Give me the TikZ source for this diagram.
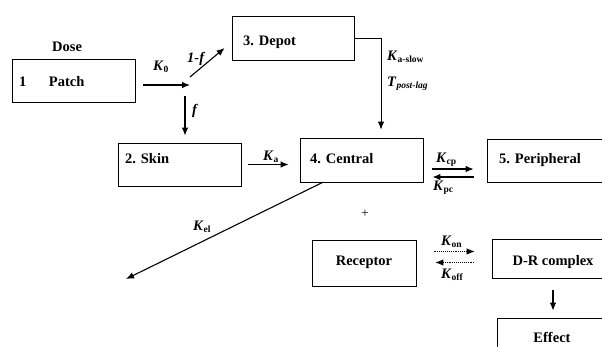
\documentclass[tikz,border=0pt]{standalone}
\usepackage{fontspec}
\setmainfont{Liberation Serif}
\usetikzlibrary{arrows.meta,positioning}
\tikzstyle{comp}=[draw, line width=0.8pt, inner sep=0pt, minimum height=43pt]
\tikzstyle{txt}=[inner sep=0pt, anchor=base west]
\tikzstyle{flow}=[->, >={Latex[length=8pt,width=6.5pt]}, line width=1.1pt]
\tikzstyle{bind}=[flow, densely dotted, line width=0.9pt]
\newcommand{\subt}[1]{\raisebox{-0.35ex}{\fontsize{9.5}{10}\selectfont #1}}
\newcommand{\kk}[1]{\textit{K}\subt{#1}}
\begin{document}
\begin{tikzpicture}[x=1pt, y=-1pt, font=\fontsize{14.5}{17}\selectfont\bfseries]
\clip (0,0) rectangle (602,346);
% compartments
\node[comp, minimum width=123pt] (patch) at (73.5,80.5) {};
\node[comp, minimum width=122pt, minimum height=44pt] (depot) at (293,38) {};
\node[comp, minimum width=123pt] (skin) at (179.5,164.5) {};
\node[comp, minimum width=123pt, minimum height=44pt] (central) at (361.5,160) {};
\node[comp, minimum width=125pt] (periph) at (549.5,160.5) {};
\node[comp, minimum width=104pt, minimum height=46pt] (recep) at (364,263) {};
\node[comp, minimum width=122pt, minimum height=39pt] (drc) at (553,258.5) {};
\node[comp, minimum width=118pt, minimum height=38pt] (effect) at (556,337) {};

% texts in the boxes
\node[txt] (dose) at (52,51.5) {Dose};
\node[txt] (patchtxt) at (19,86) {1\hspace{22.5pt}Patch};
\node[txt] (depottxt) at (243,45) {3. Depot};
\node[txt] (skintxt) at (125,163) {2. Skin};
\node[txt] (centtxt) at (310,163) {4. Central};
\node[txt] (periphtxt) at (499,163) {5. Peripheral};
\node[txt, anchor=base] (receptxt) at (364,265) {Receptor};
\node[txt, anchor=base] (drctxt) at (553,265) {D-R complex};
\node[txt, anchor=base] (effecttxt) at (552,342) {Effect};

% rate labels
\node[txt] (kzero) at (153,70) {\kk{0}};
\node[txt] (oneminusf) at (187,62) {\textit{1-f}};
\node[txt] (frac) at (192,114) {\textit{f}};
\node[txt] (ka) at (263,160) {\kk{a}};
\node[txt] (kaslow) at (387,60) {\kk{a-slow}};
\node[txt] (tlag) at (387,86) {\textit{T}\subt{\textit{post-lag}}};
\node[txt] (kcp) at (436,162) {\kk{cp}};
\node[txt] (kpc) at (433,190) {\kk{pc}};
\node[txt] (kel) at (193,230) {\kk{el}};
\node[font=\fontsize{13}{14}\selectfont\mdseries] (plus) at (365,214) {+};
\node[txt] (kon) at (441,245) {\kk{on}};
\node[txt] (koff) at (441,278) {\kk{off}};

% connectors
\coordinate (fork) at (190,85);
\coordinate (sink) at (126,279);
\draw[flow] ([xshift=8pt]patch.east |- fork) -- (fork);
\draw[flow] ([yshift=8pt]fork) -- ([shift={(-7pt,-10pt)}]depot.west);
\draw[flow] ([shift={(-5pt,-11pt)}]fork) -- ([shift={(5.5pt,7pt)}]skin.north);
\draw[flow, line width=0.9pt] (depot.east) -| ([shift={(19.5pt,8pt)}]central.north);
\draw[flow] ([xshift=7pt]skin.east) -- ([xshift=-11pt]skin.east -| central.west);
\draw[flow] ([shift={(9pt,-9pt)}]central.east) -- ([shift={(-13pt,-9pt)}]central.east -| periph.west);
\draw[flow] ([shift={(-13pt,-17pt)}]central.east -| periph.west) -- ([shift={(9pt,-17pt)}]central.east);
\draw[flow] ([xshift=23pt]central.south west) -- (sink);
\draw[bind] ([shift={(18pt,11.5pt)}]recep.east) -- ([shift={(-17pt,11.5pt)}]recep.east -| drc.west);
\draw[bind] ([shift={(-18pt,0.5pt)}]recep.east -| drc.west) -- ([shift={(19pt,0.5pt)}]recep.east);
\draw[flow] ([yshift=-12pt]drc.south) -- ([yshift=7pt]effect.north -| drc.south);
\end{tikzpicture}
\end{document}
